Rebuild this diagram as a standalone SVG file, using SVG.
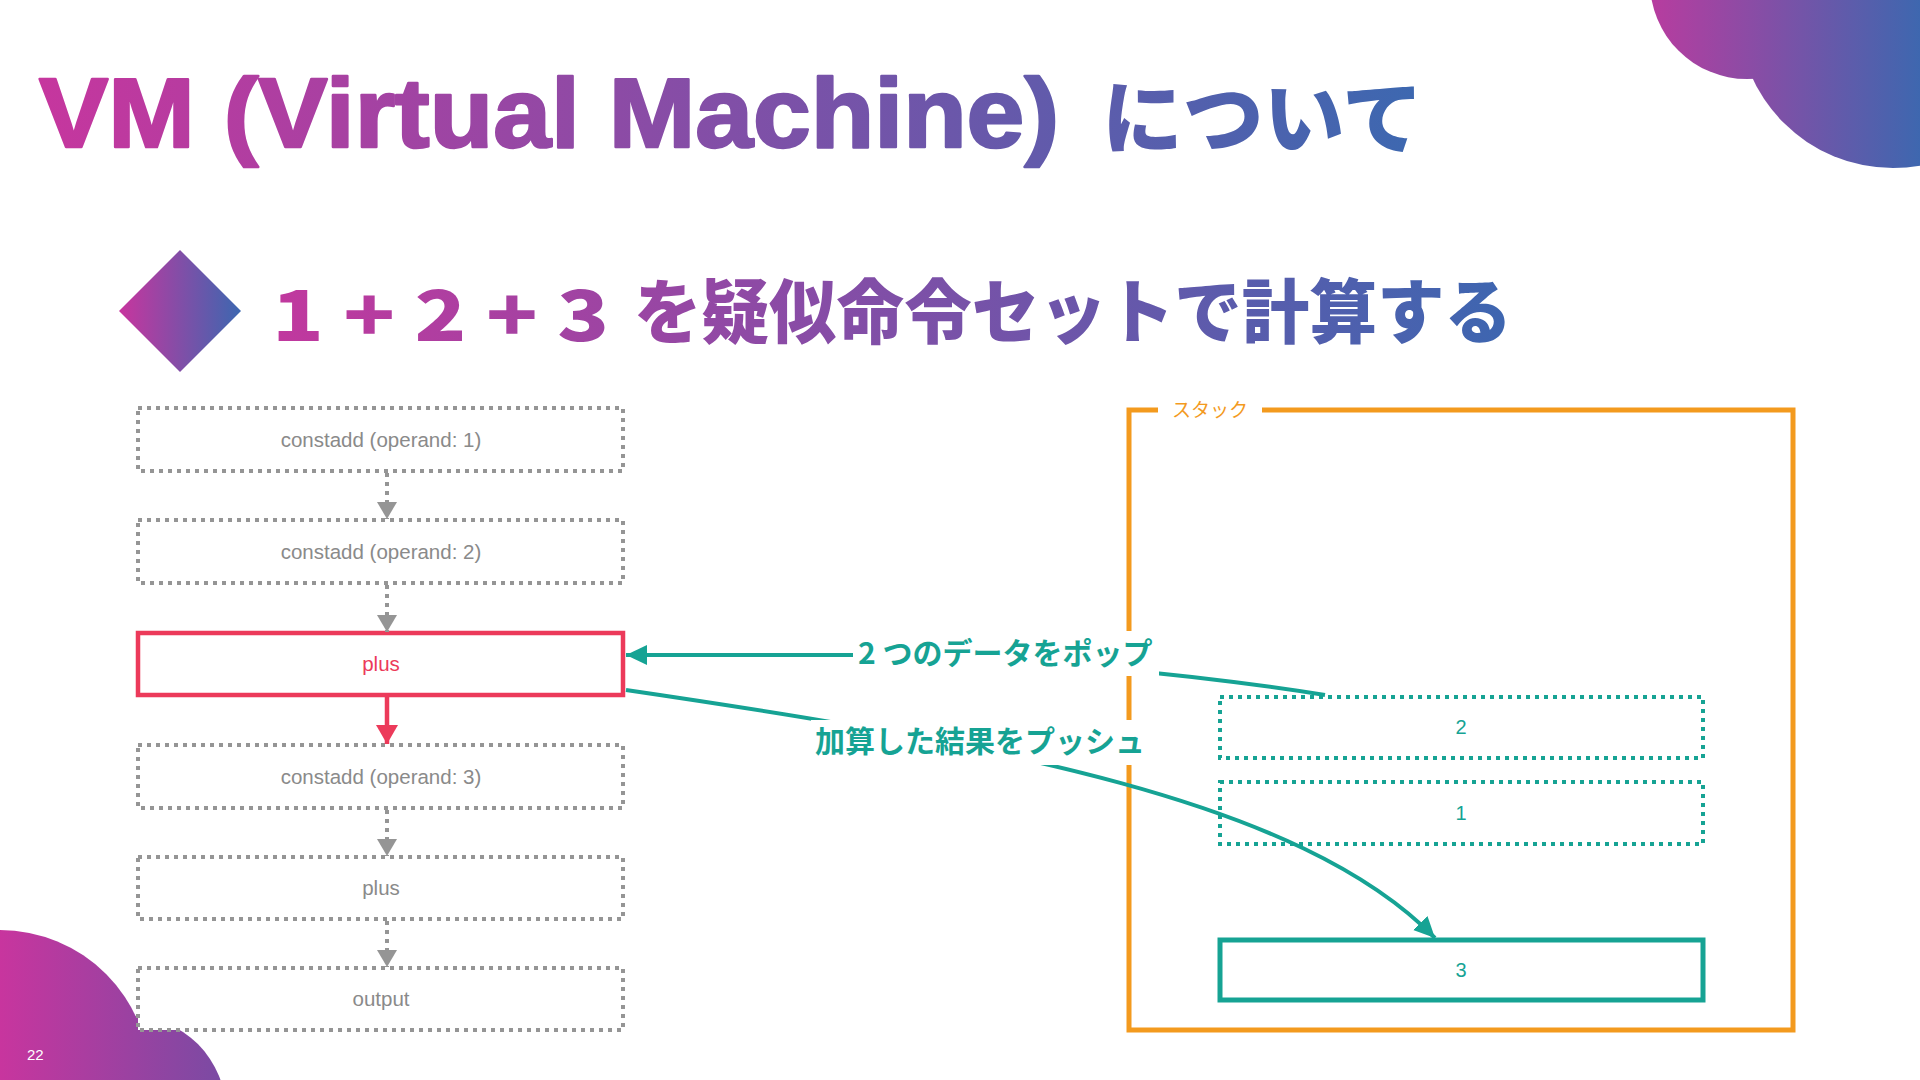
<svg xmlns="http://www.w3.org/2000/svg" width="1920" height="1080" viewBox="0 0 1920 1080">
<style>
.gbox{fill:#fff;stroke:#959595;stroke-width:4;stroke-dasharray:4 5}
.gtxt{font-family:"Liberation Sans","Helvetica",sans-serif;font-size:20.5px;fill:#8a8a8a;text-anchor:middle}
.tbox{fill:#fff;stroke:#16a394;stroke-width:4;stroke-dasharray:4 5}
.ttxt{font-family:"Liberation Sans","Helvetica",sans-serif;font-size:20px;fill:#16a394;text-anchor:middle}
.lbl{font-family:"Noto Sans CJK JP","Noto Sans",sans-serif;font-size:30px;font-weight:700;fill:#16a394}
.gline{fill:none;stroke:#959595;stroke-width:4;stroke-dasharray:4 5}
.tline{fill:none;stroke:#16a394;stroke-width:4}
</style>
<defs>
<linearGradient id="gTitle" gradientUnits="userSpaceOnUse" x1="39" y1="0" x2="1423" y2="0">
<stop offset="0" stop-color="#c6369e"/><stop offset="1" stop-color="#3c68b0"/></linearGradient>
<linearGradient id="gSub" gradientUnits="userSpaceOnUse" x1="272" y1="0" x2="1512" y2="0">
<stop offset="0" stop-color="#c1389e"/><stop offset="1" stop-color="#3d66b0"/></linearGradient>
<linearGradient id="gBox" x1="0" y1="0" x2="1" y2="0">
<stop offset="0" stop-color="#c8359e"/><stop offset="1" stop-color="#3c67b0"/></linearGradient>
<linearGradient id="gTR" gradientUnits="userSpaceOnUse" x1="1650" y1="0" x2="1920" y2="0">
<stop offset="0" stop-color="#b83c9f"/><stop offset="1" stop-color="#3e67af"/></linearGradient>
<linearGradient id="gBL" gradientUnits="userSpaceOnUse" x1="0" y1="0" x2="260" y2="0">
<stop offset="0" stop-color="#c8359e"/><stop offset="1" stop-color="#6d4ea4"/></linearGradient>
<marker id="mGray" markerUnits="userSpaceOnUse" markerWidth="20" markerHeight="20" refX="17" refY="10" orient="auto"><path d="M0,0 L17,10 L0,20 z" fill="#959595"/></marker>
<marker id="mRed" markerUnits="userSpaceOnUse" markerWidth="20" markerHeight="22" refX="19" refY="11" orient="auto"><path d="M0,0 L19,11 L0,22 z" fill="#ec3a5a"/></marker>
<marker id="mTeal" markerUnits="userSpaceOnUse" markerWidth="22" markerHeight="22" refX="21" refY="10" orient="auto"><path d="M0,0 L21,10 L0,20 z" fill="#16a394"/></marker>
</defs>
<rect width="1920" height="1080" fill="#fff"/>
<g id="decor">
<circle cx="1747" cy="-18" r="97" fill="url(#gTR)"/>
<circle cx="1893" cy="13" r="155" fill="url(#gTR)"/>
<circle cx="0" cy="1080" r="150" fill="url(#gBL)"/>
<circle cx="130" cy="1112" r="96" fill="url(#gBL)"/>
</g>
<g id="title">
<text x="39" y="147" font-family="Liberation Sans, Arial, sans-serif" font-weight="700" font-size="99" fill="url(#gTitle)" stroke="url(#gTitle)" stroke-width="2.5" stroke-linejoin="round" textLength="1020" lengthAdjust="spacingAndGlyphs">VM (Virtual Machine)</text>
<text x="1102" y="147" font-family="Noto Sans CJK JP, sans-serif" font-weight="900" font-size="80" fill="url(#gTitle)" textLength="321" lengthAdjust="spacingAndGlyphs">について</text>
</g>
<g id="subtitle">
<path d="M180,250 L241,311 L180,372 L119,311 z" fill="url(#gBox)"/>
<text x="272" y="341" font-family="Noto Sans CJK JP, sans-serif" font-weight="900" font-size="70" fill="url(#gSub)" textLength="337" lengthAdjust="spacingAndGlyphs">1 + 2 + 3</text>
<text x="634" y="338" font-family="Noto Sans CJK JP, sans-serif" font-weight="900" font-size="70" fill="url(#gSub)" textLength="878" lengthAdjust="spacingAndGlyphs">を疑似命令セットで計算する</text>
</g>
<g id="stack">
<path d="M1158,410 L1129,410 L1129,1030 L1793,1030 L1793,410 L1262,410" fill="none" stroke="#f39a1e" stroke-width="5"/>
<text x="1210" y="417" font-family="Noto Sans CJK JP, sans-serif" font-size="19" fill="#f39a1e" text-anchor="middle">スタック</text>
</g>
<g id="n1"><rect class="gbox" x="138" y="408" width="485" height="63"/><text class="gtxt" x="381" y="447">constadd (operand: 1)</text></g>
<g id="n2"><rect class="gbox" x="138" y="520" width="485" height="63"/><text class="gtxt" x="381" y="559">constadd (operand: 2)</text></g>
<g id="n3"><rect x="138" y="633" width="485" height="62" fill="#fff" stroke="#ec3a5a" stroke-width="4.5"/><text class="gtxt" x="381" y="671" style="fill:#ec3a5a">plus</text></g>
<g id="n4"><rect class="gbox" x="138" y="745" width="485" height="63"/><text class="gtxt" x="381" y="784">constadd (operand: 3)</text></g>
<g id="n5"><rect class="gbox" x="138" y="857" width="485" height="62"/><text class="gtxt" x="381" y="895">plus</text></g>
<g id="n6"><rect class="gbox" x="138" y="968" width="485" height="62"/><text class="gtxt" x="381" y="1006">output</text></g>
<g id="s2"><rect class="tbox" x="1220" y="697" width="483" height="61"/><text class="ttxt" x="1461" y="734">2</text></g>
<g id="s1"><rect class="tbox" x="1220" y="782" width="483" height="62"/><text class="ttxt" x="1461" y="820">1</text></g>
<g id="s3"><rect x="1220" y="940" width="483" height="60" fill="#fff" stroke="#16a394" stroke-width="5"/><text class="ttxt" x="1461" y="977">3</text></g>
<g id="connectors">
<path class="gline" d="M387,473 L387,519" marker-end="url(#mGray)"/>
<path class="gline" d="M387,585 L387,632" marker-end="url(#mGray)"/>
<path d="M387,697 L387,744" fill="none" stroke="#ec3a5a" stroke-width="4.5" marker-end="url(#mRed)"/>
<path class="gline" d="M387,810 L387,856" marker-end="url(#mGray)"/>
<path class="gline" d="M387,921 L387,967" marker-end="url(#mGray)"/>
<path class="tline" d="M1325,695 C1200,675 1000,655 860,655 L626,655" marker-end="url(#mTeal)"/>
<path class="tline" d="M626,690 C1000,745 1300,800 1435,938" marker-end="url(#mTeal)"/>
<rect x="853" y="631" width="306" height="45" fill="#fff"/>
<text class="lbl" x="858" y="664">2 つのデータをポップ</text>
<rect x="811" y="720" width="338" height="45" fill="#fff"/>
<text class="lbl" x="815" y="752">加算した結果をプッシュ</text>
</g>
<text x="27" y="1060" font-family="Liberation Sans, sans-serif" font-size="15" fill="#fff">22</text>
</svg>
